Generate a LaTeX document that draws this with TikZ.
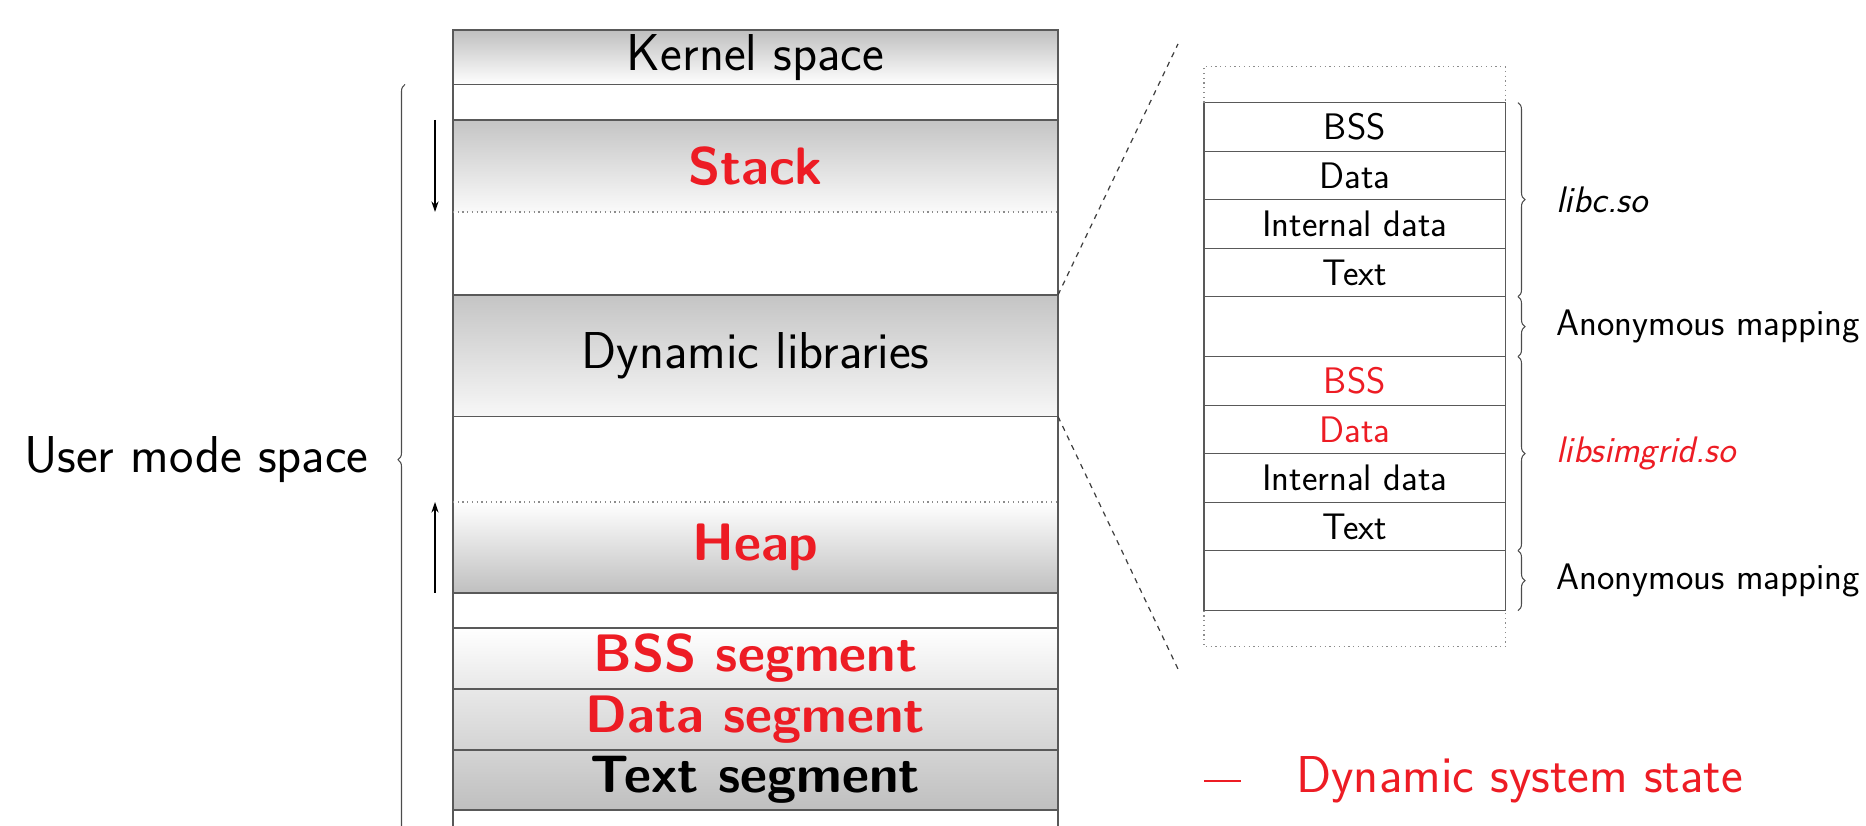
\documentclass[tikz,border=0pt]{standalone}
\usetikzlibrary{positioning,decorations.pathreplacing,arrows.meta}

\definecolor{dynred}{RGB}{237,28,36}
\newcommand{\bigsf}{\sffamily\fontsize{29.5}{35}\selectfont}
\newcommand{\boldsf}{\sffamily\bfseries\fontsize{30}{36}\selectfont}
\newcommand{\smallsf}{\sffamily\fontsize{21}{25}\selectfont}

\tikzset{
  seg/.style={minimum width=12.1cm, inner sep=0pt, outer sep=0pt, font=\bigsf},
  hot/.style={text=dynred, font=\boldsf},
  lib/.style={draw=black!65, line width=0.7pt, minimum width=6.03cm, minimum height=0.97cm, inner sep=0pt, outer sep=0pt, font=\smallsf},
  sep/.style={draw=black!65, line width=0.8pt},
  limit/.style={draw=black!45, dotted, line width=0.7pt},
  growth/.style={-{Stealth[length=6pt,width=4pt]}, line width=0.6pt},
  bracket/.style={decorate, decoration={brace, amplitude=0.14cm}, draw=black!70, line width=0.6pt},
  note/.style={inner sep=0pt, font=\smallsf},
}

\begin{document}
\begin{tikzpicture}
\useasboundingbox (0,0) rectangle (37.32,16.52);

% Process address space
\node[seg, minimum height=1.09cm, top color=black!25, bottom color=white, anchor=north] (kernel) at (15.11,15.92) {Kernel space};
\node[seg, minimum height=0.71cm, below=0pt of kernel] (gapA) {};
\node[seg, hot, minimum height=1.84cm, top color=black!23, bottom color=black!2, below=0pt of gapA] (stack) {Stack};
\node[seg, minimum height=1.66cm, below=0pt of stack] (gapB) {};
\node[seg, minimum height=2.43cm, top color=black!23, bottom color=black!3, below=0pt of gapB] (dynlib) {Dynamic libraries};
\node[seg, minimum height=1.71cm, below=0pt of dynlib] (gapC) {};
\node[seg, hot, minimum height=1.82cm, top color=white, bottom color=black!25, below=0pt of gapC] (heap) {Heap};
\node[seg, minimum height=0.70cm, below=0pt of heap] (gapD) {};
\node[seg, hot, minimum height=1.22cm, top color=white, bottom color=black!9, below=0pt of gapD] (bss) {BSS segment};
\node[seg, hot, minimum height=1.22cm, top color=black!9, bottom color=black!17, below=0pt of bss] (data) {Data segment};
\node[seg, font=\boldsf, minimum height=1.20cm, top color=black!17, bottom color=black!25, below=0pt of data] (text) {Text segment};
\node[seg, minimum height=0.5cm, below=0pt of text] (gapE) {};

% outline and borders
\draw[sep] (gapE.south west) |- (kernel.north east) -- (gapE.south east);
\foreach \n in {kernel,gapA,gapB,dynlib,heap,gapD,bss,data,text}
  \draw[sep] (\n.south west) -- (\n.south east);
\foreach \n in {stack,gapC}
  \draw[limit] (\n.south west) -- (\n.south east);

% growth directions
\draw[growth] ([xshift=-0.36cm]stack.north west) -- ([xshift=-0.36cm]stack.south west);
\draw[growth] ([xshift=-0.36cm]heap.south west) -- ([xshift=-0.36cm]heap.north west);

\draw[bracket] ([xshift=-0.96cm]gapE.south west) -- node[left=0.72cm, inner sep=0pt, font=\bigsf] (user) {User mode space} ([xshift=-0.96cm]gapA.north west);

% Zoom on the libraries
\coordinate (zoomtop) at (23.56,15.64);
\coordinate (zoombot) at (23.56,3.14);
\draw[dashed, black!75, line width=0.7pt] (dynlib.north east) -- (zoomtop);
\draw[dashed, black!75, line width=0.7pt] (dynlib.south east) -- (zoombot);

\node[lib, anchor=north] (lbss) at (27.095,14.466) {BSS};
\node[lib, below=0pt of lbss] (ldata) {Data};
\node[lib, below=0pt of ldata] (lint) {Internal data};
\node[lib, below=0pt of lint] (ltext) {Text};
\node[lib, minimum height=1.2cm, below=0pt of ltext] (anonA) {};
\node[lib, text=dynred, below=0pt of anonA] (sbss) {BSS};
\node[lib, text=dynred, below=0pt of sbss] (sdata) {Data};
\node[lib, below=0pt of sdata] (sint) {Internal data};
\node[lib, below=0pt of sint] (stext) {Text};
\node[lib, minimum height=1.2cm, below=0pt of stext] (anonB) {};

\draw[limit] (lbss.north west) -- ++(0,0.72) -| (lbss.north east);
\draw[limit] (anonB.south west) -- ++(0,-0.72) -| (anonB.south east);

\draw[bracket] ([xshift=0.25cm]lbss.north east) -- node[right=0.76cm, note] (libc) {\textit{libc.so}} ([xshift=0.25cm]ltext.south east);
\draw[bracket] ([xshift=0.25cm]anonA.north east) -- node[right=0.76cm, note] (anonAlbl) {Anonymous mapping} ([xshift=0.25cm]anonA.south east);
\draw[bracket] ([xshift=0.25cm]sbss.north east) -- node[right=0.76cm, note, text=dynred] (simgrid) {\textit{libsimgrid.so}} ([xshift=0.25cm]stext.south east);
\draw[bracket] ([xshift=0.25cm]anonB.north east) -- node[right=0.76cm, note] (anonBlbl) {Anonymous mapping} ([xshift=0.25cm]anonB.south east);

% Legend
\coordinate (keyL) at (24.08,0.9);
\coordinate (keyR) at (24.82,0.9);
\draw[dynred, line width=1.1pt] (keyL) -- (keyR);
\node[note, font=\bigsf, text=dynred, anchor=base west] (legend) at ([xshift=1.1cm, yshift=-0.24cm]keyR) {Dynamic system state};

\end{tikzpicture}
\end{document}
